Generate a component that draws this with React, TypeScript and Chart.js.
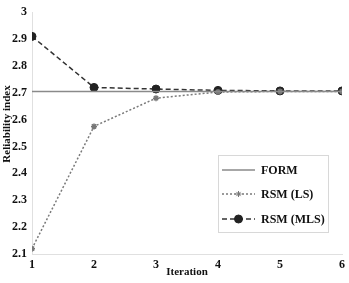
import React, { useEffect, useRef } from "react";
import { Chart, registerables } from "chart.js";

Chart.register(...registerables);

const iterations = [1, 2, 3, 4, 5, 6];
const formValues = [2.705, 2.705, 2.705, 2.705, 2.705, 2.705];
const rsmLsValues = [2.12, 2.575, 2.68, 2.703, 2.705, 2.705];
const rsmMlsValues = [2.91, 2.72, 2.714, 2.709, 2.707, 2.707];
const seriesLabels = ["FORM", "RSM (LS)", "RSM (MLS)"];
const yTicks = [2.1, 2.2, 2.3, 2.4, 2.5, 2.6, 2.7, 2.8, 2.9, 3];
const xTitle = "Iteration";
const yTitle = "Reliability index";

const FONT = "Liberation Serif, Times New Roman, serif";

const yTitlePlugin = {
  id: "yTitle",
  afterDraw(chart: any) {
    const ctx = chart.ctx;
    ctx.save();
    ctx.translate(7, 124);
    ctx.rotate(-Math.PI / 2);
    ctx.fillStyle = "#111";
    ctx.font = `bold 11px ${FONT}`;
    ctx.textAlign = "center";
    ctx.textBaseline = "middle";
    ctx.fillText(yTitle, 0, 0);
    ctx.restore();
  },
};

const legendPlugin = {
  id: "insideLegend",
  afterDraw(chart: any) {
    const ctx = chart.ctx;
    const x0 = 218, y0 = 155, w = 110, h = 77;
    ctx.save();
    ctx.fillStyle = "#ffffff";
    ctx.fillRect(x0, y0, w, h);
    ctx.strokeStyle = "#d8d8d8";
    ctx.lineWidth = 1;
    ctx.strokeRect(x0 + 0.5, y0 + 0.5, w, h);
    const rows = [170, 194, 219];
    chart.data.datasets.forEach((ds: any, i: number) => {
      const y = rows[i];
      ctx.strokeStyle = ds.borderColor;
      ctx.lineWidth = ds.borderWidth;
      ctx.setLineDash(ds.borderDash || []);
      ctx.beginPath();
      ctx.moveTo(222, y);
      ctx.lineTo(255, y);
      ctx.stroke();
      ctx.setLineDash([]);
      if (ds.pointRadius > 0) {
        ctx.fillStyle = ds.pointBackgroundColor;
        ctx.strokeStyle = ds.pointBorderColor;
        ctx.lineWidth = 1;
        if (ds.pointStyle === "circle") {
          ctx.beginPath();
          ctx.arc(238.5, y, ds.pointRadius, 0, Math.PI * 2);
          ctx.fill();
          ctx.stroke();
        } else {
          const r = ds.pointRadius;
          ctx.beginPath();
          ctx.moveTo(238.5 - r, y);
          ctx.lineTo(238.5 + r, y);
          ctx.moveTo(238.5, y - r);
          ctx.lineTo(238.5, y + r);
          ctx.moveTo(238.5 - r * 0.7, y - r * 0.7);
          ctx.lineTo(238.5 + r * 0.7, y + r * 0.7);
          ctx.moveTo(238.5 - r * 0.7, y + r * 0.7);
          ctx.lineTo(238.5 + r * 0.7, y - r * 0.7);
          ctx.stroke();
        }
      }
      ctx.fillStyle = "#111";
      ctx.font = `bold 12px ${FONT}`;
      ctx.textBaseline = "middle";
      ctx.textAlign = "left";
      ctx.fillText(ds.label, 261, y + 1);
    });
    ctx.restore();
  },
};

export default function App() {
  const ref = useRef<HTMLCanvasElement>(null);
  useEffect(() => {
    document.body.style.margin = "0";
    const mk = (vals: number[]) => iterations.map((x, i) => ({ x, y: vals[i] }));
    const chart = new Chart(ref.current!, {
      type: "line",
      data: {
        datasets: [
          {
            label: seriesLabels[0],
            data: mk(formValues),
            borderColor: "#8a8a8a",
            borderWidth: 1.6,
            pointRadius: 0,
            pointStyle: "circle",
            pointBackgroundColor: "#8a8a8a",
            pointBorderColor: "#8a8a8a",
          },
          {
            label: seriesLabels[1],
            data: mk(rsmLsValues),
            borderColor: "#7a7a7a",
            borderWidth: 1.5,
            borderDash: [2, 2],
            pointRadius: 3,
            pointStyle: "star",
            pointBackgroundColor: "#777",
            pointBorderColor: "#777",
          },
          {
            label: seriesLabels[2],
            data: mk(rsmMlsValues),
            borderColor: "#333",
            borderWidth: 1.5,
            borderDash: [5, 3],
            pointRadius: 4,
            pointBorderWidth: 1,
            pointStyle: "circle",
            pointBackgroundColor: "#222",
            pointBorderColor: "#222",
          },
        ],
      },
      options: {
        animation: false,
        responsive: false,
        layout: { padding: { top: 10, right: 6, left: 0, bottom: 0 } },
        plugins: { legend: { display: false }, tooltip: { enabled: false } },
        scales: {
          x: {
            type: "linear",
            min: 1,
            max: 6,
            afterFit: (s: any) => { s.height = 29; },
            grid: { display: false, drawTicks: false },
            border: { display: true, color: "#e0e0e0", width: 1 },
            ticks: {
              stepSize: 1,
              padding: 4,
              color: "#111",
              font: { family: FONT, size: 12, weight: "bold" },
            },
            title: {
              display: true,
              text: xTitle,
              color: "#111",
              font: { family: FONT, size: 11, weight: "bold" },
              padding: { top: 2, bottom: 4 },
            },
          },
          y: {
            min: 2.1,
            max: 3,
            afterFit: (s: any) => { s.width = 32; },
            afterBuildTicks: (s: any) => { s.ticks = yTicks.map((v) => ({ value: v })); },
            grid: { display: false, drawTicks: false },
            border: { display: true, color: "#e0e0e0", width: 1 },
            ticks: {
              padding: 5,
              color: "#111",
              font: { family: FONT, size: 12, weight: "bold" },
              callback: (v: any) => String(Number(Number(v).toFixed(1))),
            },
          },
        },
      },
      plugins: [legendPlugin, yTitlePlugin],
    } as any);
    return () => chart.destroy();
  }, []);
  return <canvas ref={ref} width={349} height={283} style={{ display: "block" }} />;
}
